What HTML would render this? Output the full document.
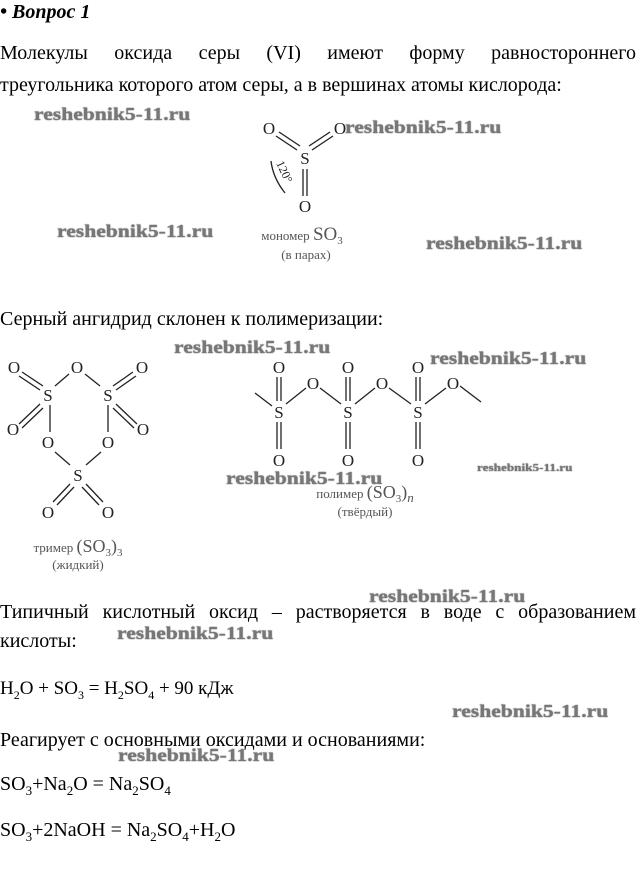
<!DOCTYPE html>
<html><head><meta charset="utf-8"><style>
body{margin:0;width:642px;height:876px;background:#fff;position:relative;overflow:hidden;font-family:"Liberation Serif","DejaVu Serif",serif;color:#000}
.t{position:absolute;font-size:20px;white-space:nowrap;line-height:1}
.w{position:absolute;font-family:"Liberation Serif",serif;font-weight:bold;font-size:18px;color:#777;white-space:nowrap;line-height:1;text-shadow:0 0 1px #333;transform:scaleX(1.2);transform-origin:0 0}
.j{position:absolute;left:0;width:636px;font-size:20px;text-align:justify;text-align-last:justify;line-height:1}
svg{position:absolute;left:0;top:0}
svg text{font-family:"Liberation Serif",serif}
</style></head><body>
<div class="t" style="left:0;top:2px;font-weight:bold;font-style:italic">• Вопрос 1</div>
<div class="j" style="top:43px">Молекулы оксида серы (VI) имеют форму равностороннего</div>
<div class="t" style="left:0;top:75px">треугольника которого атом серы, а в вершинах атомы кислорода:</div>
<div class="t" style="left:0;top:309px">Серный ангидрид склонен к полимеризации:</div>
<div class="j" style="top:602px">Типичный кислотный оксид – растворяется в воде с образованием</div>
<div class="t" style="left:0;top:631px">кислоты:</div>
<div class="t" style="left:0;top:679px;font-size:19px">H<sub style="font-size:12px">2</sub>O + SO<sub style="font-size:12px">3</sub> = H<sub style="font-size:12px">2</sub>SO<sub style="font-size:12px">4</sub> + 90 кДж</div>
<div class="t" style="left:0;top:730px">Реагирует с основными оксидами и основаниями:</div>
<div class="t" style="left:0;top:774px">SO<sub style="font-size:13px">3</sub>+Na<sub style="font-size:13px">2</sub>O = Na<sub style="font-size:13px">2</sub>SO<sub style="font-size:13px">4</sub></div>
<div class="t" style="left:0;top:820px">SO<sub style="font-size:13px">3</sub>+2NaOH = Na<sub style="font-size:13px">2</sub>SO<sub style="font-size:13px">4</sub>+H<sub style="font-size:13px">2</sub>O</div>

<svg width="642" height="876" stroke="#222" stroke-width="1.3" fill="none">
<g font-size="17" fill="#222" stroke="none" text-anchor="middle">
<text x="269" y="134">O</text><text x="340" y="134">O</text><text x="305" y="164">S</text><text x="305" y="212">O</text>
</g>
<line x1="276" y1="136" x2="297" y2="150"/><line x1="279" y1="132" x2="300" y2="146"/>
<line x1="333" y1="136" x2="312" y2="150"/><line x1="330" y1="132" x2="309" y2="146"/>
<line x1="303" y1="169" x2="303" y2="196"/><line x1="307" y1="169" x2="307" y2="196"/>
<path d="M271 161 Q273 178 285 193"/>
<text x="276" y="163" font-size="12" fill="#222" stroke="none" transform="rotate(65 276 163)">120°</text>
<g fill="#555" stroke="none" text-anchor="middle">
<text x="302" y="240" font-size="13">мономер <tspan font-size="19">SO</tspan><tspan font-size="11" dy="4">3</tspan></text>
<text x="306" y="259" font-size="13">(в парах)</text>
</g>
<!-- trimer -->
<g font-size="17" fill="#222" stroke="none" text-anchor="middle">
<text x="14" y="373">O</text><text x="77" y="373">O</text><text x="142" y="373">O</text>
<text x="48" y="401">S</text><text x="108" y="401">S</text>
<text x="13" y="435">O</text><text x="143" y="435">O</text>
<text x="48" y="448">O</text><text x="108" y="448">O</text>
<text x="78" y="481">S</text>
<text x="48" y="518">O</text><text x="108" y="518">O</text>
</g>
<line x1="19" y1="376" x2="40" y2="390"/><line x1="22" y1="372" x2="43" y2="386"/>
<line x1="69" y1="374" x2="55" y2="386"/><line x1="85" y1="374" x2="100" y2="386"/>
<line x1="136" y1="376" x2="116" y2="390"/><line x1="133" y1="372" x2="113" y2="386"/>
<line x1="19" y1="424" x2="40" y2="404"/><line x1="22" y1="428" x2="43" y2="408"/>
<line x1="137" y1="424" x2="116" y2="404"/><line x1="134" y1="428" x2="113" y2="408"/>
<line x1="50" y1="405" x2="50" y2="432"/><line x1="108" y1="405" x2="108" y2="432"/>
<line x1="55" y1="452" x2="70" y2="465"/><line x1="101" y1="452" x2="86" y2="465"/>
<line x1="70" y1="484" x2="53" y2="502"/><line x1="74" y1="487" x2="57" y2="505"/>
<line x1="86" y1="484" x2="103" y2="502"/><line x1="82" y1="487" x2="99" y2="505"/>
<g fill="#555" stroke="none" text-anchor="middle">
<text x="78" y="552" font-size="13">тример <tspan font-size="18">(SO</tspan><tspan font-size="11" dy="4">3</tspan><tspan font-size="18" dy="-4">)</tspan><tspan font-size="11" dy="4">3</tspan></text>
<text x="78" y="569" font-size="13">(жидкий)</text>
</g>
<!-- polymer -->
<g font-size="17" fill="#222" stroke="none" text-anchor="middle">
<text x="279" y="373">O</text><text x="348" y="373">O</text><text x="418" y="373">O</text>
<text x="313" y="389">O</text><text x="382" y="389">O</text><text x="453" y="389">O</text>
<text x="279" y="418">S</text><text x="348" y="418">S</text><text x="418" y="418">S</text>
<text x="279" y="466">O</text><text x="348" y="466">O</text><text x="418" y="466">O</text>
</g>
<g>
<line x1="277" y1="377" x2="277" y2="401"/><line x1="281" y1="377" x2="281" y2="401"/>
<line x1="346" y1="377" x2="346" y2="401"/><line x1="350" y1="377" x2="350" y2="401"/>
<line x1="416" y1="377" x2="416" y2="401"/><line x1="420" y1="377" x2="420" y2="401"/>
<line x1="277" y1="422" x2="277" y2="449"/><line x1="281" y1="422" x2="281" y2="449"/>
<line x1="346" y1="422" x2="346" y2="449"/><line x1="350" y1="422" x2="350" y2="449"/>
<line x1="416" y1="422" x2="416" y2="449"/><line x1="420" y1="422" x2="420" y2="449"/>
<line x1="255" y1="393" x2="272" y2="406"/>
<line x1="286" y1="404" x2="306" y2="388"/><line x1="320" y1="388" x2="341" y2="404"/>
<line x1="355" y1="404" x2="375" y2="388"/><line x1="389" y1="388" x2="411" y2="404"/>
<line x1="425" y1="404" x2="446" y2="388"/><line x1="460" y1="386" x2="481" y2="402"/>
</g>
<g fill="#555" stroke="none" text-anchor="middle">
<text x="365" y="498" font-size="13">полимер <tspan font-size="18">(SO</tspan><tspan font-size="11" dy="4">3</tspan><tspan font-size="18" dy="-4">)</tspan><tspan font-size="13" font-style="italic" dy="4">n</tspan></text>
<text x="365" y="516" font-size="13">(твёрдый)</text>
</g>
</svg>

<div class="w" style="left:34px;top:105px">reshebnik5-11.ru</div>
<div class="w" style="left:345px;top:118px">reshebnik5-11.ru</div>
<div class="w" style="left:57px;top:222px">reshebnik5-11.ru</div>
<div class="w" style="left:426px;top:234px">reshebnik5-11.ru</div>
<div class="w" style="left:174px;top:338px">reshebnik5-11.ru</div>
<div class="w" style="left:430px;top:349px">reshebnik5-11.ru</div>
<div class="w" style="left:226px;top:469px">reshebnik5-11.ru</div>
<div class="w" style="left:477px;top:463px;font-size:11px">reshebnik5-11.ru</div>
<div class="w" style="left:369px;top:587px">reshebnik5-11.ru</div>
<div class="w" style="left:117px;top:624px">reshebnik5-11.ru</div>
<div class="w" style="left:452px;top:702px">reshebnik5-11.ru</div>
<div class="w" style="left:118px;top:746px">reshebnik5-11.ru</div>
</body></html>
